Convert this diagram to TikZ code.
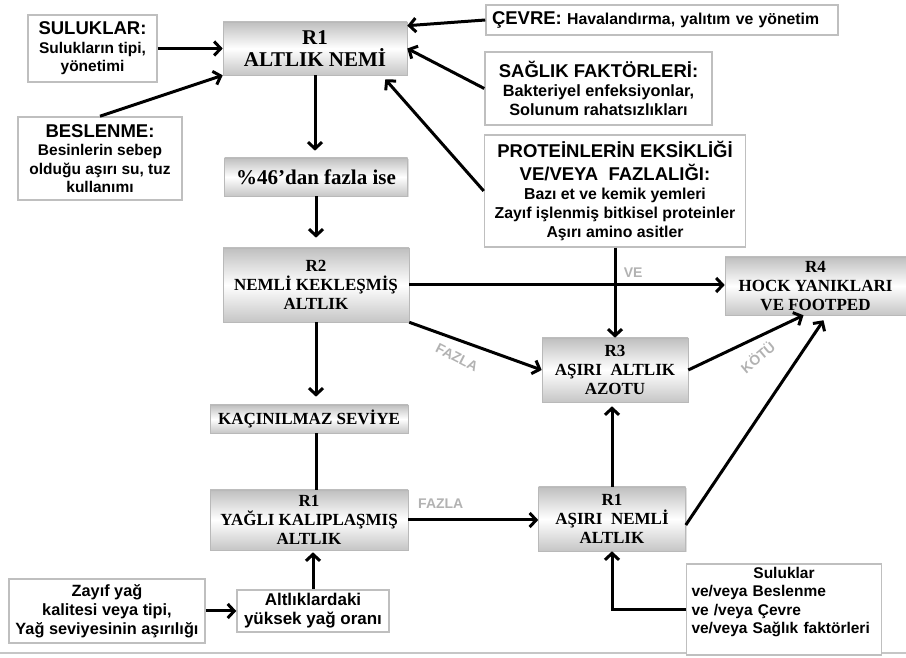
\documentclass[tikz,border=0pt]{standalone}
\usepackage{fontspec}
\setmainfont{Liberation Serif}
\setsansfont{Liberation Sans}
\usepackage{tikz}
\usetikzlibrary{arrows}
\usetikzlibrary{arrows.meta}
\usetikzlibrary{shadows}
\usetikzlibrary{positioning}
\newcommand{\baslik}{\fontsize{18.5}{23}\selectfont}
\tikzset{block/.style={draw=gray!55, line width=0.6pt, text centered, align=center, inner sep=1pt, top color=gray!50, bottom color=gray!45, middle color=white, font=\bfseries\fontsize{17}{19}\selectfont, drop shadow={opacity=0.25,shadow xshift=1pt,shadow yshift=-1pt}}}
\tikzset{info/.style={draw=gray!50, line width=1.5pt, fill=white, align=center, inner sep=2pt, font=\sffamily\bfseries\fontsize{15.5}{18.5}\selectfont}}
\tikzset{yazi/.style={font=\sffamily\bfseries\fontsize{#1}{18.8}\selectfont}}
\tikzset{connect/.style={draw, line width=3pt, >={Straight Barb[length=6.5pt,width=14pt]}}}
\tikzset{word/.style={text=gray!60, font=\sffamily\bfseries\fontsize{14}{16}\selectfont}}

\begin{document}
\begin{tikzpicture}[x=1pt,y=1pt]
\useasboundingbox (0,0) rectangle (906,658);

%bottom rule
\draw[gray!45, line width=1.5pt] (0,5) -- (906,5);

%R1
\node[block,minimum height=53pt,minimum width=184pt,font=\bfseries\fontsize{21}{22}\selectfont] (nem) at (315,609.5) {R1\\ALTLIK NEMİ};
\node[block,minimum height=38pt,minimum width=183pt,font=\bfseries\fontsize{21}{22}\selectfont] (esik) at([xshift=1pt,yshift=-128.5pt]nem) {\%46’dan fazla ise};

%inputs of R1
\node[info,minimum width=129pt,minimum height=67pt] (suluk) at([xshift=-222.5pt]nem) {{\baslik SULUKLAR:}\\Sulukların tipi,\\yönetimi};
\node[info,minimum width=164pt,minimum height=83pt] (besin) at([xshift=-215pt,yshift=-110pt]nem) {{\baslik BESLENME:}\\Besinlerin sebep\\olduğu aşırı su, tuz\\kullanımı};
\node[info,yazi=15.8,text width=340pt,align=left,inner xsep=6pt,minimum height=30pt] (cevre) at([xshift=347pt,yshift=28.5pt]nem) {{\baslik ÇEVRE:} Havalandırma, yalıtım ve yönetim};
\node[info,yazi=16.3,minimum width=227pt,minimum height=73pt] (saglik) at([xshift=283.5pt,yshift=-40pt]nem) {{\baslik SAĞLIK FAKTÖRLERİ:}\\Bakteriyel enfeksiyonlar,\\Solunum rahatsızlıkları};
\node[info,yazi=15.8,minimum width=261pt,minimum height=112pt] (protein) at([xshift=300pt,yshift=-142.5pt]nem) {{\baslik PROTEİNLERİN EKSİKLİĞİ}\\[4pt]{\baslik VE/VEYA~~FAZLALIĞI:}\\Bazı et ve kemik yemleri\\Zayıf işlenmiş bitkisel proteinler\\Aşırı amino asitler};

%R2 R3 R4
\node[block,minimum height=74pt,minimum width=186pt] (r2) at([xshift=1pt,yshift=-236.5pt]nem) {R2\\NEMLİ KEKLEŞMİŞ\\ALTLIK};
\node[block,minimum height=58pt,minimum width=181pt] (r4) at([xshift=500.5pt,yshift=-237.5pt]nem) {R4\\HOCK YANIKLARI\\VE FOOTPED};
\node[block,minimum height=64pt,minimum width=146pt] (r3) at([xshift=300pt,yshift=-321.5pt]nem) {R3\\AŞIRI~~ALTLIK\\AZOTU};

%lower part
\node[block,minimum height=28pt,minimum width=198pt] (kacin) at([xshift=-6pt,yshift=-370.5pt]nem) {KAÇINILMAZ SEVİYE};
\node[block,minimum height=60pt,minimum width=198pt] (yagli) at([xshift=-6pt,yshift=-471.5pt]nem) {R1\\YAĞLI KALIPLAŞMIŞ\\ALTLIK};
\node[block,minimum height=64pt,minimum width=147pt] (asiri) at([xshift=297pt,yshift=-470.5pt]nem) {R1\\AŞIRI~~NEMLİ\\ALTLIK};
\node[info,text width=185pt,align=left,minimum height=91pt,inner xsep=5pt] (etken) at([xshift=469pt,yshift=-561pt]nem) {{\centering Suluklar\par}ve/veya Beslenme\\ve /veya Çevre\\ve/veya Sağlık faktörleri\\\mbox{}};
\node[info,yazi=16.3,minimum width=196pt,minimum height=64pt] (zayif) at([xshift=-208pt,yshift=-562.5pt]nem) {Zayıf yağ\\kalitesi veya tipi,\\Yağ seviyesinin aşırılığı};
\node[info,yazi=17,minimum width=152pt,minimum height=42pt] (yag) at([xshift=-2pt,yshift=-562.5pt]nem) {Altlıklardaki\\yüksek yağ oranı};

%arrows to R1
\path[connect,->] (suluk.east) -- (nem.west);
\path[connect,->] (besin.north) -- (nem.south west);
\path[connect,->] (cevre.west) -- ([yshift=-4pt]nem.north east);
\path[connect,->] (saglik.west) -- (nem.east);
\path[connect,->] (protein.west) -- ([xshift=-22pt,yshift=-4pt]nem.south east);

%main column
\path[connect,->,shorten >=7pt] (nem.south) -- (nem.south |- esik.north);
\path[connect,->,shorten >=10pt] (esik.south) -- (esik.south |- r2.north);
\path[connect,->,shorten >=8pt] (r2.south) -- (r2.south |- kacin.north);
\path[connect] (r2.south |- kacin.south) -- (r2.south |- yagli.north);
\path[connect,->,shorten >=2pt] (yag.north) -- (yag.north |- yagli.south);
\path[connect,->] (zayif.east) -- (yag.west);

%internal signals
\path[connect,->] (r2.east) -- node[word,above=3pt,pos=0.71]{VE} (r2.east -| r4.west);
\path[connect,->] (protein.south) -- (protein.south |- r3.north);
\path[connect,->] (r2.south east) -- node[word,pos=0.36,yshift=-18pt,rotate=-27]{FAZLA} (r3.west);
\path[connect,->] (r3.east) -- node[word,pos=0.6,yshift=-20pt,rotate=40]{KÖTÜ} ([xshift=-12pt]r4.south);
\path[connect,->] (yagli.east) -- node[word,above=7pt,pos=0.25]{FAZLA} (yagli.east -| asiri.west);
\path[connect,->,shorten >=4pt] (asiri.north) -- (asiri.north |- r3.south);
\path[connect,->] ([yshift=-6pt]asiri.east) -- ([xshift=8pt,yshift=-5pt]r4.south);
\path[connect,->] (etken.west) -| (asiri.south);

\end{tikzpicture}
\end{document}
